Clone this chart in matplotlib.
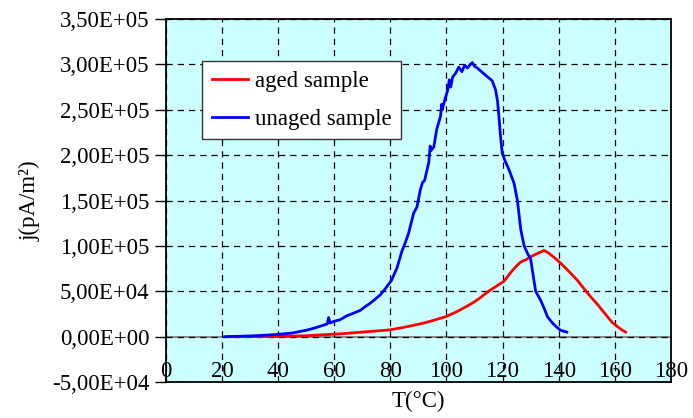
import matplotlib.pyplot as plt
from matplotlib.ticker import FuncFormatter

plt.rcParams['font.family'] = ['Liberation Serif', 'DejaVu Serif']
plt.rcParams['font.size'] = 16.5

# unaged sample, T in degC, j in pA/m2
unaged_T = [21, 25, 30, 35, 40, 45, 50, 53, 56, 57.5, 58, 58.5, 60, 62, 64.5, 67, 69.3, 71,
            72.9, 74.5, 76.4, 78, 80.4, 82.4, 84.1, 85.5, 86.5, 88.3, 89.5, 90.7, 91.5, 92.2,
            93.7, 94.2, 94.5, 95.5, 96.5, 97.9, 98.3, 98.5, 99.5, 100.5, 101, 101.5, 102.2,
            103.2, 104.4, 105.5, 106.5, 107.5, 108.5, 109.2, 110, 111, 112.1, 114, 116.3, 117.5,
            118.2, 118.7, 119.3, 119.9, 121, 122.3, 124.1, 125.3, 126.5, 127.7, 129, 130, 130.8,
            131.8, 133.6, 135, 136, 137.8, 139.5, 140.7, 142.9]
unaged_j = [0, 300, 800, 1500, 2500, 4000, 7000, 9500, 12500, 14000, 21000, 15000, 17000,
            18500, 23000, 26000, 29000, 33000, 37000, 41000, 46000, 52000, 62000, 76000, 94000,
            105000, 114000, 136000, 143000, 162000, 170000, 172000, 192000, 210000, 205000,
            209000, 228000, 243000, 256000, 250000, 262000, 272000, 283000, 275000, 286000,
            290000, 297000, 292000, 299000, 296000, 300000, 302000, 298000, 296000, 293000,
            288000, 282000, 272000, 260000, 243000, 220000, 202000, 193000, 184000, 169000,
            150000, 118000, 100000, 91000, 86000, 70000, 50000, 40000, 30000, 22000, 15000,
            10000, 7000, 5000]

# aged sample
aged_T = [22, 30, 40, 50, 58.6, 62, 70, 80, 86, 92, 96, 100.2, 104, 107, 109.8, 112.1, 115,
          118, 120.5, 123, 125, 126.4, 127, 128.5, 130, 132, 134.8, 136.5, 138.5, 140.7, 143,
          146.7, 149, 151.4, 154, 157.4, 159, 161, 162.5, 163.9]
aged_j = [0, 100, 300, 1000, 2500, 3000, 5000, 7500, 11000, 15000, 18500, 22500, 28000,
          33000, 38000, 43000, 50000, 56000, 61000, 71000, 78000, 82000, 83000, 85000, 88000,
          91000, 95000, 92000, 87000, 81000, 74000, 62000, 53000, 44000, 35000, 22000, 16000,
          11000, 7500, 5000]

x_ticks = [0, 20, 40, 60, 80, 100, 120, 140, 160, 180]
y_ticks = [-50000, 0, 50000, 100000, 150000, 200000, 250000, 300000, 350000]

fig = plt.figure(figsize=(6.93, 4.18), dpi=100)
ax = fig.add_axes([0.2395, 0.0861, 0.7285, 0.8684])
ax.set_facecolor('#CCFFFF')

ax.axhline(0, color='#808080', lw=1.3, zorder=1)
ax.plot(aged_T, aged_j, color='red', lw=2, label='aged sample', zorder=3)
ax.plot(unaged_T, unaged_j, color='blue', lw=2, label='unaged sample', zorder=3)

ax.set_xlim(0, 180)
ax.set_ylim(-50000, 350000)
ax.set_xticks(x_ticks)
ax.set_yticks(y_ticks)
ax.yaxis.set_major_formatter(FuncFormatter(lambda v, p: '{:.2E}'.format(v).replace('.', ',')))
ax.grid(True, color='black', ls=(0, (5, 4)), lw=0.9)
ax.tick_params(axis='x', length=0, pad=-15)
ax.tick_params(axis='y', direction='out', length=8, width=1, pad=4)
for s in ax.spines.values():
    s.set_linewidth(1.3)
    s.set_color('black')

ax.set_xlabel('T(°C)', labelpad=6)
ax.set_ylabel('j(pA/m²)', labelpad=8)

leg = ax.legend(loc='upper left', bbox_to_anchor=(0.0713, 0.884), borderaxespad=0,
                fancybox=False, framealpha=1, edgecolor='#333333', handlelength=1.6,
                handletextpad=0.3, labelspacing=0.74, borderpad=0.42)
leg.get_frame().set_linewidth(1)

fig.savefig('out.png', dpi=100)
